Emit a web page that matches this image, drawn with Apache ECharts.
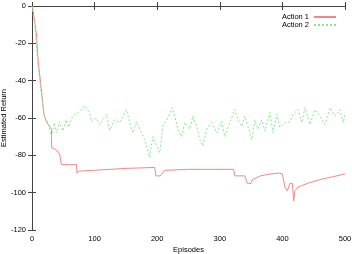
<!DOCTYPE html>
<html>
<head>
<meta charset="utf-8">
<script src="https://cdn.jsdelivr.net/npm/echarts@6/dist/echarts.min.js"></script>
<style>
  html, body { margin: 0; padding: 0; background: #fff; }
  #chart { width: 352px; height: 254px; }
</style>
</head>
<body>
<div id="chart"></div>
<script>
var xTicks = [0, 100, 200, 300, 400, 500];
var yTicks = [0, -20, -40, -60, -80, -100, -120];

var action1Ep = [0, 2, 7, 10, 15, 19, 23, 31, 31.5, 38, 44, 46, 47, 71, 72, 74, 100, 150, 196, 198, 205, 212, 250, 322, 324, 340, 344, 350, 352, 365, 380, 395, 400, 404, 408, 412, 416, 418, 420, 425, 440, 460, 480, 500];
var action1Val = [0, -3, -15, -30, -45, -58, -62, -66, -76, -77, -79, -79.5, -85, -85, -89.6, -88.5, -88, -87, -86.5, -91, -91, -88, -87.5, -87.5, -91, -91, -95, -95, -93, -91, -90, -89.5, -90, -97, -99, -95, -95, -104.5, -99, -97, -95, -93, -91.5, -90];

var action2Ep = [0, 5, 9, 14, 20, 25.6, 31, 36, 39, 44, 49, 55, 58, 65, 76, 84, 92, 95, 103, 108, 119, 124, 132, 140, 151, 156, 161, 167, 169, 175, 180, 188, 193, 199, 204, 209, 217, 224, 228, 233, 239, 244, 252, 257, 263, 268, 273, 279, 287, 295, 303, 308, 316, 324, 329, 335, 340, 345, 351, 356, 361, 367, 372, 380, 385, 391, 396, 404, 412, 417, 425, 431, 436, 444, 452, 460, 468, 476, 484, 492, 497, 500];
var action2Val = [0, -12, -30, -45, -59, -62.5, -70, -62.5, -68, -62, -67, -61, -65, -59, -56.5, -53.5, -57, -62, -60, -63.5, -58, -66.5, -61, -62.5, -55.5, -62.5, -68, -62, -61, -68, -71.5, -81, -70, -75, -78.5, -64.5, -60, -54.5, -59, -66, -70, -62.5, -66, -59, -64.5, -71.5, -75, -66, -62.5, -68, -62, -70, -62.5, -55.5, -61, -64.5, -59, -64.5, -71.5, -61, -66, -61, -67, -57, -68, -58, -65, -62.5, -62, -58, -55.5, -62.5, -54.5, -63.5, -55.5, -59, -63.5, -54.5, -59, -55.5, -62.5, -58];

function pairs(xs, ys) {
  return xs.map(function (x, i) { return [x, ys[i]]; });
}

var font = 'Liberation Sans, Arial, sans-serif';
var axisColor = '#444';

var myChart = echarts.init(document.getElementById('chart'));
var option = {
  animation: false,
  grid: { left: 32, right: 7, top: 6, bottom: 24, containLabel: false, outerBoundsMode: 'none' },
  legend: {
    orient: 'vertical',
    right: 10,
    top: 8,
    itemGap: 0,
    itemWidth: 22,
    itemHeight: 6,
    align: 'right',
    itemStyle: { opacity: 0 },
    textStyle: { fontFamily: font, fontSize: 7.5, color: '#000', padding: [0, 0, 0, 0] },
    data: ['Action 1', 'Action 2']
  },
  xAxis: [
    {
      type: 'value', min: 0, max: 500, interval: 100,
      name: 'Episodes', nameLocation: 'middle', nameGap: 16, nameMoveOverlap: false,
      nameTextStyle: { fontFamily: font, fontSize: 7.5, color: '#000' },
      axisLine: { lineStyle: { color: axisColor, width: 1 } },
      axisTick: { inside: true, length: 4, lineStyle: { color: axisColor } },
      axisLabel: { fontFamily: font, fontSize: 7.5, color: '#000', margin: 5 },
      splitLine: { show: false }
    },
    {
      type: 'value', min: 0, max: 500, interval: 100, position: 'top',
      axisLine: { show: true, lineStyle: { color: axisColor, width: 1 } },
      axisTick: { inside: true, length: 4, lineStyle: { color: axisColor } },
      axisLabel: { show: false },
      splitLine: { show: false }
    }
  ],
  yAxis: [
    {
      type: 'value', min: -120, max: 0, interval: 20,
      name: 'Estimated Return', nameLocation: 'middle', nameGap: 24, nameMoveOverlap: false,
      nameTextStyle: { fontFamily: font, fontSize: 7.5, color: '#000' },
      axisLine: { show: true, lineStyle: { color: axisColor, width: 1 } },
      axisTick: { show: true, inside: true, length: 4, lineStyle: { color: axisColor } },
      axisLabel: { fontFamily: font, fontSize: 7.5, color: '#000', margin: 6 },
      splitLine: { show: false }
    },
    {
      type: 'value', min: -120, max: 0, interval: 20, position: 'right',
      axisLine: { show: true, lineStyle: { color: axisColor, width: 1 } },
      axisTick: { show: true, inside: true, length: 4, lineStyle: { color: axisColor } },
      axisLabel: { show: false },
      splitLine: { show: false }
    }
  ],
  series: [
    {
      name: 'Action 1',
      type: 'line',
      showSymbol: false,
      symbol: 'none',
      color: '#f08888',
      lineStyle: { width: 1, color: '#f08888' },
      data: pairs(action1Ep, action1Val)
    },
    {
      name: 'Action 2',
      type: 'line',
      showSymbol: false,
      symbol: 'none',
      color: '#88e888',
      lineStyle: { width: 1, color: '#88e888', type: [2, 2] },
      data: pairs(action2Ep, action2Val)
    }
  ]
};
myChart.setOption(option);
</script>
</body>
</html>
